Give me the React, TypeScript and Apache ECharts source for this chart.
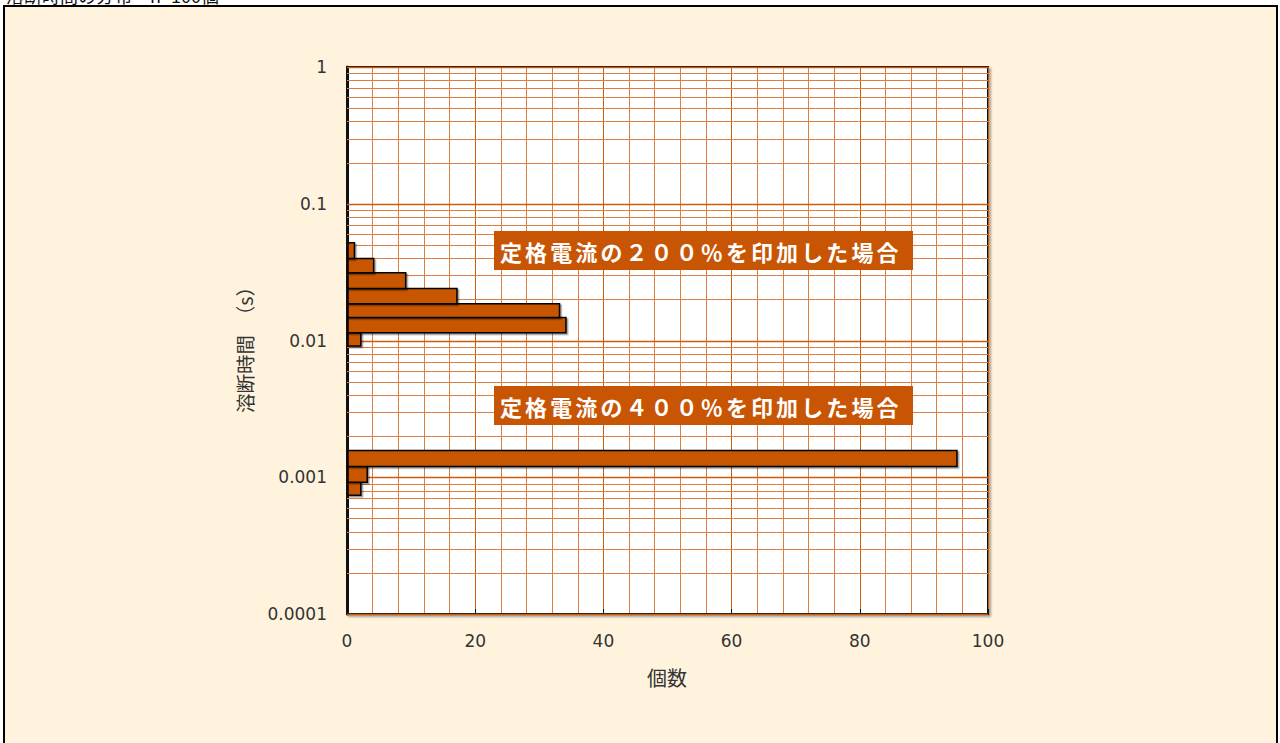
import React, { useEffect, useRef } from "react";
import * as echarts from "echarts";

// 200% rated current: fusing-time bin edges (s) and counts per bin (bottom to top)
const timeEdges200 = [0.0091, 0.0114, 0.0147, 0.0186, 0.024, 0.0313, 0.0397, 0.0519];
const counts200 = [2, 34, 33, 17, 9, 4, 1];
// 400% rated current
const timeEdges400 = [0.00074, 0.00092, 0.0012, 0.00157];
const counts400 = [2, 3, 95];

const xTicks = ["0", "20", "40", "60", "80", "100"];
const yTickLabels = ["0.0001", "0.001", "0.01", "0.1", "1"];
const decades = [0.0001, 0.001, 0.01, 0.1];
const minorMultipliers = [1, 2, 3, 4, 5, 6, 7, 8, 9];

const label200 = "定格電流の２００％を印加した場合";
const label400 = "定格電流の４００％を印加した場合";
const xName = "個数";
const yName = "溶断時間　（s）";
const topText = "溶断時間の分布　n=100個";

const BAR = "#C85504";
const GRID_MINOR = "#DB8040";
const GRID_MAJOR = "#CC5C0C";

function buildBars(edges: number[], counts: number[]) {
  return counts.map((c, i) => [c, edges[i], edges[i + 1]]);
}

export default function App() {
  const ref = useRef<HTMLDivElement>(null);
  useEffect(() => {
    if (!ref.current) return;
    const chart = echarts.init(ref.current, null, { renderer: "svg" });

    const hLines: number[][] = [];
    decades.forEach((d) => minorMultipliers.forEach((m) => hLines.push([0, d * m, m === 1 ? 1 : 0])));
    hLines.push([0, 1, 1]);

    const bars = [...buildBars(timeEdges200, counts200), ...buildBars(timeEdges400, counts400)];

    const letters = (txt: string, cx0: number, y0: number, pitch: number) =>
      Array.from(txt).map((ch, i) => ({
        type: "text",
        z: 30,
        x: cx0 + i * pitch,
        y: y0,
        style: {
          text: ch,
          fill: "#fff",
          font: 'bold 22px "Noto Sans CJK JP"',
          align: "center",
          verticalAlign: "middle",
        },
      }));

    const option: any = {
      animation: false,
      backgroundColor: "#ffffff",
      grid: {
        left: 347,
        top: 67,
        width: 641,
        height: 547,
        show: true,
        backgroundColor: "#ffffff",
        borderColor: "#111",
        borderWidth: 2,
        shadowColor: "rgba(0,0,0,0.35)",
        shadowBlur: 2,
        shadowOffsetX: 2,
        shadowOffsetY: 2,
      },
      xAxis: {
        type: "value",
        min: 0,
        max: 100,
        interval: 20,
        axisLine: { show: true, lineStyle: { color: "#111", width: 2 } },
        axisTick: { show: true, inside: true, length: 5, lineStyle: { color: "#111" } },
        axisLabel: {
          color: "#333",
          fontFamily: "DejaVu Sans",
          fontSize: 17,
          margin: 18,
          formatter: (v: number) => xTicks[Math.round(v / 20)] ?? "",
        },
        splitLine: { show: true, lineStyle: { color: GRID_MAJOR, width: 1 } },
        minorTick: { show: false, splitNumber: 5 },
        minorSplitLine: { show: true, lineStyle: { color: GRID_MINOR, width: 1 } },
      },
      yAxis: {
        type: "log",
        logBase: 10,
        min: 0.0001,
        max: 1,
        axisLine: { show: true, lineStyle: { color: "#111", width: 3 } },
        axisTick: { show: true, inside: true, length: 5, lineStyle: { color: "#111" } },
        axisLabel: {
          color: "#333",
          fontFamily: "DejaVu Sans",
          fontSize: 17,
          margin: 20,
          formatter: (v: number) => yTickLabels[Math.round(Math.log10(v)) + 4] ?? "",
        },
        splitLine: { show: false },
      },
      series: [
        {
          type: "custom",
          z: 1,
          silent: true,
          data: hLines,
          renderItem: (params: any, api: any) => {
            const p1 = api.coord([0, api.value(1)]);
            const p2 = api.coord([100, api.value(1)]);
            const major = api.value(2) === 1;
            return {
              type: "line",
              shape: { x1: p1[0], y1: Math.round(p1[1]) + 0.5, x2: p2[0], y2: Math.round(p2[1]) + 0.5 },
              style: { stroke: major ? GRID_MAJOR : GRID_MINOR, lineWidth: major ? 1.5 : 1 },
            };
          },
        },
        {
          type: "custom",
          z: 5,
          data: bars,
          encode: { x: 0, y: [1, 2] },
          renderItem: (params: any, api: any) => {
            const tl = api.coord([0, api.value(2)]);
            const br = api.coord([api.value(0), api.value(1)]);
            return {
              type: "rect",
              shape: { x: tl[0] + 1, y: tl[1], width: br[0] - tl[0], height: br[1] - tl[1] },
              style: {
                fill: BAR,
                stroke: "#000",
                lineWidth: 1.5,
                shadowColor: "rgba(0,0,0,0.4)",
                shadowBlur: 1,
                shadowOffsetX: 1.5,
                shadowOffsetY: 1.5,
              },
            };
          },
        },
      ],
      graphic: [
        {
          type: "rect",
          z: -10,
          shape: { x: 4, y: 6, width: 1273, height: 760 },
          style: { fill: "#FFF3DE", stroke: "#000", lineWidth: 2 },
        },
        {
          type: "text",
          z: -5,
          x: 6,
          y: -14,
          style: { text: topText, fill: "#111", font: '18px "Noto Sans CJK JP"', verticalAlign: "top" },
        },
        {
          type: "rect",
          z: 20,
          shape: { x: 494, y: 231, width: 419, height: 39 },
          style: { fill: BAR },
        },
        ...letters(label200, 511, 250.5, 25.1),
        {
          type: "rect",
          z: 20,
          shape: { x: 494, y: 386, width: 419, height: 39 },
          style: { fill: BAR },
        },
        ...letters(label400, 511, 405.5, 25.1),
        {
          type: "text",
          x: 667,
          y: 677,
          style: {
            text: xName,
            fill: "#333",
            font: '20px "Noto Sans CJK JP"',
            align: "center",
            verticalAlign: "middle",
          },
        },
        {
          type: "text",
          x: 244,
          y: 345,
          rotation: Math.PI / 2,
          style: {
            text: yName,
            fill: "#333",
            font: '19.5px "Noto Sans CJK JP"',
            align: "center",
            verticalAlign: "middle",
          },
        },
      ],
    };
    chart.setOption(option);
    return () => chart.dispose();
  }, []);
  return (
    <div style={{ position: "absolute", left: 0, top: 0, width: 1280, height: 743, background: "#fff" }}>
      <div ref={ref} style={{ width: 1280, height: 743 }} />
    </div>
  );
}
